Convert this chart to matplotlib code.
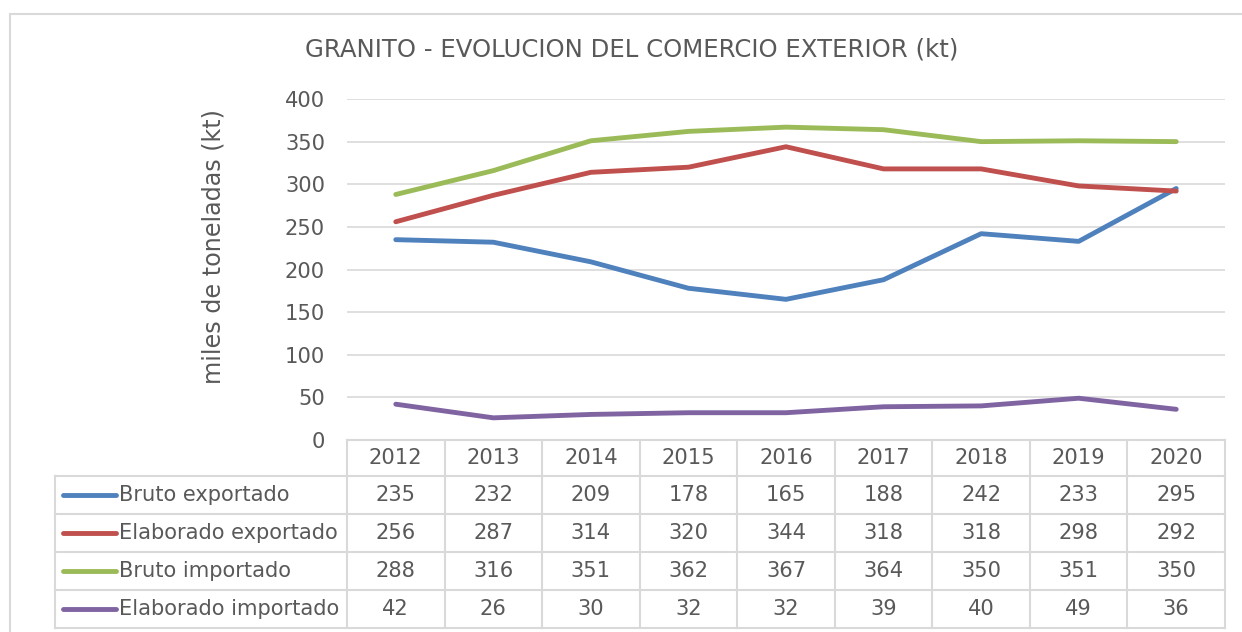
import matplotlib
matplotlib.use("Agg")
import matplotlib.pyplot as plt
from matplotlib.lines import Line2D
from matplotlib.patches import Rectangle
from matplotlib.transforms import blended_transform_factory

# --- data -------------------------------------------------------------
years = ["2012", "2013", "2014", "2015", "2016", "2017", "2018", "2019", "2020"]
series_names = ["Bruto exportado", "Elaborado exportado",
                "Bruto importado", "Elaborado importado"]
bruto_exportado = [235, 232, 209, 178, 165, 188, 242, 233, 295]
elaborado_exportado = [256, 287, 314, 320, 344, 318, 318, 298, 292]
bruto_importado = [288, 316, 351, 362, 367, 364, 350, 351, 350]
elaborado_importado = [42, 26, 30, 32, 32, 39, 40, 49, 36]
y_ticks = [0, 50, 100, 150, 200, 250, 300, 350, 400]

series_values = [bruto_exportado, elaborado_exportado,
                 bruto_importado, elaborado_importado]
colors = ["#4F81BD", "#C0504D", "#9BBB59", "#8064A2"]

TEXT = "#595959"
GRID = "#D9D9D9"
FONT = "DejaVu Sans"
FS = 15.1
LW = 3.5

W, H = 1242, 632
fig = plt.figure(figsize=(W / 100, H / 100), dpi=100)
fig.patch.set_facecolor("white")


def fx(px):
    return px / W


def fy(py):
    return 1 - py / H


# chart area frame
fig.add_artist(Rectangle((fx(10), fy(H + 5)), fx(W + 10) - fx(10),
                         fy(14) - fy(H + 5), transform=fig.transFigure,
                         fill=False, edgecolor=GRID, lw=1.5))

# plot area
x_left, x_right = 347, 1225
y_top, y_bottom = 99, 440
ax = fig.add_axes([fx(x_left), fy(y_bottom), fx(x_right) - fx(x_left),
                   fy(y_top) - fy(y_bottom)])
ax.set_xlim(-0.5, len(years) - 0.5)
ax.set_ylim(0, 400)
ax.set_yticks(y_ticks)
ax.set_yticklabels([str(t) for t in y_ticks])
ax.set_xticks([])
for s in ax.spines.values():
    s.set_visible(False)
ax.tick_params(axis="y", length=0, pad=15.8, labelsize=FS, labelcolor=TEXT)
for lbl in ax.get_yticklabels():
    lbl.set_fontfamily(FONT)
ax.yaxis.grid(True, color=GRID, lw=1.2)
ax.set_axisbelow(True)
ax.patch.set_alpha(0)

xs = list(range(len(years)))
for vals, c in zip(series_values, colors):
    ax.plot(xs, vals, color=c, lw=LW, solid_capstyle="round", zorder=3)

fig.text(fx(213), fy(246), "miles de toneladas (kt)", rotation=90,
         ha="center", va="center", fontsize=17.2, color=TEXT, family=FONT)

fig.text(fx(632), fy(50), "GRANITO - EVOLUCION DEL COMERCIO EXTERIOR (kt)",
         ha="center", va="center", fontsize=17.6, color=TEXT, family=FONT)

# --- data table below the plot ---------------------------------------
tr = blended_transform_factory(ax.transData, fig.transFigure)
row_edges = [440, 476, 514, 552, 590, 628]
table_left = 55


def hline(x0, x1, y):
    fig.add_artist(Line2D([fx(x0), fx(x1)], [fy(y), fy(y)],
                          transform=fig.transFigure, color=GRID, lw=1.5))


def vline(x, y0, y1):
    fig.add_artist(Line2D([fx(x), fx(x)], [fy(y0), fy(y1)],
                          transform=fig.transFigure, color=GRID, lw=1.5))


hline(x_left, x_right, row_edges[0])
for y in row_edges[1:]:
    hline(table_left, x_right, y)
col_w = (x_right - x_left) / len(years)
for i in range(len(years) + 1):
    vline(x_left + i * col_w, row_edges[0], row_edges[-1])
vline(table_left, row_edges[1], row_edges[-1])

hdr_y = fy((row_edges[0] + row_edges[1]) / 2)
for i, yr in enumerate(years):
    fig.text(i, hdr_y, yr, transform=tr, ha="center", va="center",
             fontsize=FS, color=TEXT, family=FONT)

for r, (name, vals, c) in enumerate(zip(series_names, series_values, colors)):
    yc = (row_edges[r + 1] + row_edges[r + 2]) / 2
    fig.add_artist(Line2D([fx(63), fx(116)], [fy(yc), fy(yc)],
                          transform=fig.transFigure, color=c, lw=LW,
                          solid_capstyle="round"))
    fig.text(fx(119), fy(yc), name, ha="left", va="center", fontsize=FS,
             color=TEXT, family=FONT)
    for i, v in enumerate(vals):
        fig.text(i, fy(yc), str(v), transform=tr, ha="center", va="center",
                 fontsize=FS, color=TEXT, family=FONT)

fig.savefig("out.png", dpi=100, facecolor="white")
